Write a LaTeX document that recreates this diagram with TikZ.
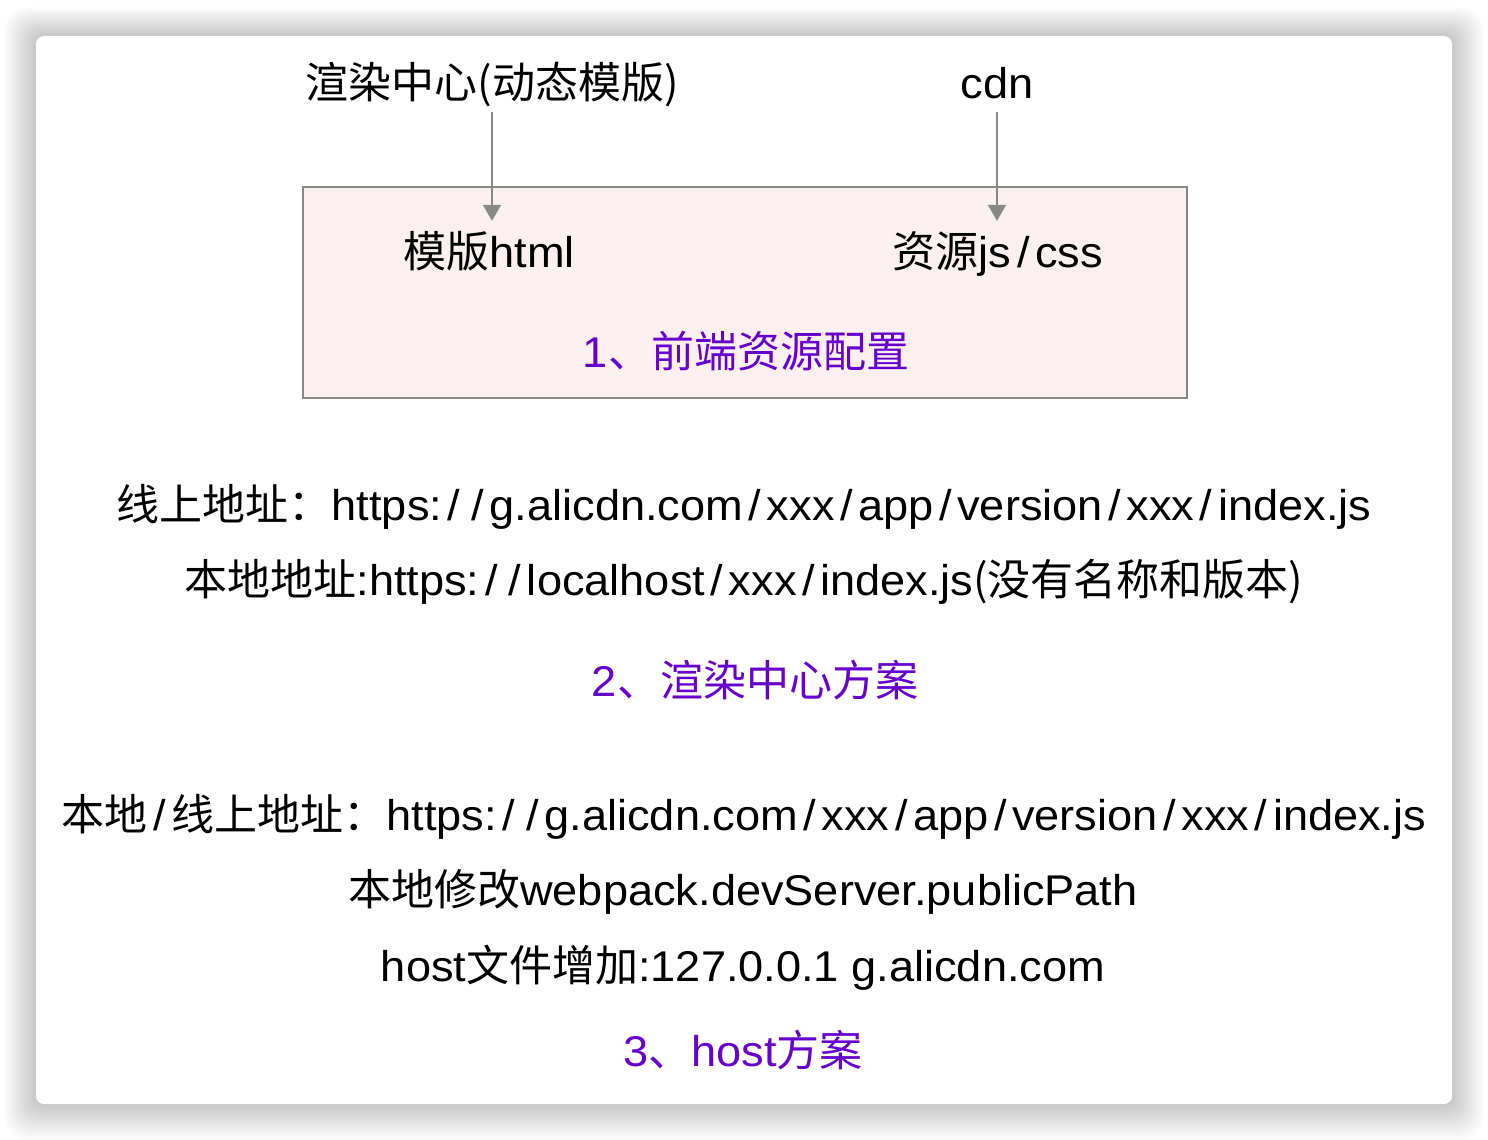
\documentclass[tikz,border=0pt]{standalone}
\usepackage{fontspec}
\setmainfont{Liberation Sans}[FakeStretch=1.05]
\newfontfamily\cjk{Noto Sans CJK SC}
\usetikzlibrary{arrows.meta}
\definecolor{purp}{HTML}{6600CC}
\definecolor{boxfill}{HTML}{FAF0F0}
\definecolor{boxline}{HTML}{888888}
\definecolor{arrcol}{HTML}{888888}
\newcommand{\sls}{\hspace{5.6pt}/\hspace{5.6pt}}
\tikzset{
  txt/.style={inner sep=0pt, text height=37pt, text depth=6pt, font=\fontsize{43}{50}\selectfont, text=black},
  ptxt/.style={txt, text=purp},
  arr/.style={draw=arrcol, line width=2pt, -{Triangle[width=18pt,length=16pt]}, shorten <=7.5pt, shorten >=9.5pt},
  cfgbox/.style={draw=boxline, line width=2pt, fill=boxfill},
}
\begin{document}
\begin{tikzpicture}[x=1pt,y=-1pt]
\useasboundingbox (0,0) rectangle (1488,1140);
\fill[white] (0,0) rectangle (1488,1140);
% shadow
\foreach \i in {1,...,18}{
  \fill[black, opacity=0.012, rounded corners={8pt+\i pt}] (36-1.8*\i,36-1.6*\i) rectangle (1452+1.8*\i,1104+2.0*\i);
}
\fill[white, rounded corners=8pt] (36,36) rectangle (1452,1104);
% config box
\draw[cfgbox] (303,187) rectangle (1187,398);
% nodes
\node[txt] (render) at (492,83) {\cjk 渲染中心(动态模版)};
\node[txt] (cdn) at (997,83) {cdn};
\node[txt] (tpl) at (489,252) {{\cjk 模版}html};
\node[txt] (res) at (998,252) {{\cjk 资源}js\sls css};
\node[ptxt] (t1) at (746,352) {1{\cjk 、前端资源配置}};
\node[txt] (l1) at (744,505) {{\cjk 线上地址：}https:\sls\sls g.alicdn.com\sls xxx\sls app\sls version\sls xxx\sls index.js};
\node[txt] (l2) at (744,580) {{\cjk 本地地址}:https:\sls\sls localhost\sls xxx\sls index.js{\cjk (没有名称和版本)}};
\node[ptxt] (t2) at (755,681) {2{\cjk 、渲染中心方案}};
\node[txt] (l3) at (744,815) {{\cjk 本地}\sls{\cjk 线上地址：}https:\sls\sls g.alicdn.com\sls xxx\sls app\sls version\sls xxx\sls index.js};
\node[txt] (l4) at (743,890) {{\cjk 本地修改}webpack.devServer.publicPath};
\node[txt] (l5) at (743,966) {host{\cjk 文件增加}:127.0.0.1 g.alicdn.com};
\node[ptxt] (t3) at (743,1051) {3{\cjk 、}host{\cjk 方案}};
% arrows
\draw[arr] (render.south) -- (render.south |- tpl.north);
\draw[arr] (cdn.south) -- (cdn.south |- res.north);
\end{tikzpicture}
\end{document}
